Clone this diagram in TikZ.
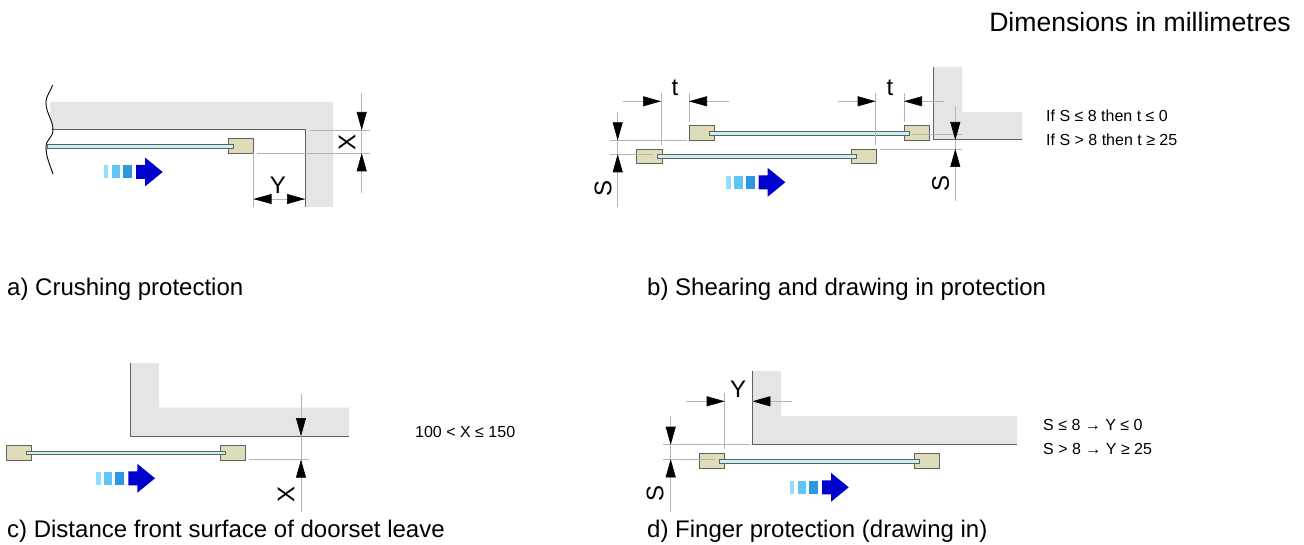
\documentclass[tikz,border=0pt]{standalone}
\usepackage{fontspec}
\setmainfont{Liberation Sans}
\usetikzlibrary{arrows.meta}
\definecolor{wallgray}{HTML}{E5E5E5}
\definecolor{edgedark}{HTML}{606060}
\definecolor{extgray}{HTML}{B4B4B4}
\definecolor{blockfill}{HTML}{DFDCB9}
\definecolor{glassfill}{HTML}{C8F2F2}
\definecolor{mA}{HTML}{8FE0FF}
\definecolor{mB}{HTML}{5FC5F5}
\definecolor{mC}{HTML}{2C98E0}
\definecolor{mD}{HTML}{0000CC}
\tikzset{
  wallfill/.style={fill=wallgray,draw=none},
  walledge/.style={draw=edgedark,line width=1pt},
  extline/.style={draw=extgray,line width=0.9pt},
  dimtip/.style={draw=extgray,line width=0.6pt,-{Triangle[length=18pt,width=10pt,fill=black,color=black]}},
  blockbox/.style={draw=edgedark,fill=blockfill,line width=0.9pt},
  glassbox/.style={draw=edgedark,fill=glassfill,line width=0.9pt},
  caption/.style={anchor=west,inner sep=0pt,font=\fontsize{24}{27}\selectfont},
  dimtext/.style={inner sep=0pt,font=\fontsize{24}{27}\selectfont},
  rule/.style={anchor=west,inner sep=0pt,font=\fontsize{16}{19}\selectfont},
  pics/motion/.style={code={
    \fill[mA] (-59,-6.5) rectangle (-54.5,6.5);
    \fill[mB] (-51,-6.5) rectangle (-42.7,6.5);
    \fill[mC] (-39.7,-6.5) rectangle (-30.7,6.5);
    \fill[mD] (-26.7,-7) -- (-17.7,-7) -- (-17.7,-14.5) -- (0,0) -- (-17.7,14.5) -- (-17.7,7) -- (-26.7,7) -- cycle;
  }}
}
\newcommand{\leafblock}[4]{\draw[blockbox] (#1,#3) rectangle (#2,#4);}
\newcommand{\leafglass}[4]{\draw[glassbox] (#1,#3) rectangle (#2,#4);}
\begin{document}
\begin{tikzpicture}[x=1pt,y=-1pt]
\useasboundingbox (0,0) rectangle (1304,545);
\fill[white] (0,0) rectangle (1304,545);

\node[anchor=east,inner sep=0pt,font=\fontsize{26.6}{30}\selectfont] (title) at (1291,22) {Dimensions in millimetres};

% ---- panel a
\fill[wallfill] (50,102) -- (333,102) -- (333,207) -- (305.3,207) -- (305.3,130) -- (52,130) -- cycle;
\draw[walledge] (52,130) -- (305.3,130) -- (305.3,207);
\draw[line width=0.9pt,black] (52.5,85) .. controls (50,93) and (46,95) .. (46,103) .. controls (46,113) and (53,120) .. (53,130) .. controls (53,138) and (46,139) .. (46,147) .. controls (46,157) and (50,165) .. (53,174);
\leafblock{228}{253.5}{138.7}{153.3}
\leafglass{47}{233}{144}{148}
\pic at (162.7,172) {motion};
\draw[extline] (361.7,93) -- (361.7,193);
\draw[extline] (310,130) -- (370,130);
\draw[extline] (257,153.3) -- (370,153.3);
\draw[extline] (253.5,153.3) -- (253.5,207);
\draw[extline] (253.5,199) -- (305,199);
\draw[dimtip] (361.7,112) -- (361.7,130);
\draw[dimtip] (361.7,171) -- (361.7,153.3);
\draw[dimtip] (270,199) -- (253.5,199);
\draw[dimtip] (288,199) -- (305,199);
\node[dimtext,rotate=90] (ax) at (347,142) {X};
\node[dimtext] (ay) at (278,185) {Y};
\node[caption] (capa) at (7,289) {a) Crushing protection};

% ---- panel b
\fill[wallfill] (933.7,67) -- (962,67) -- (962,112) -- (1022,112) -- (1022,140) -- (933.7,140) -- cycle;
\draw[walledge] (933.7,67) -- (933.7,140) -- (1022,140);
\leafblock{689}{714.7}{125.7}{140.3}
\leafblock{904}{929.3}{125.7}{140.3}
\leafglass{709}{909}{131.3}{135.3}
\leafblock{636.3}{662}{149}{163.7}
\leafblock{851.3}{876.7}{149}{163.7}
\leafglass{657}{856.7}{154.3}{158.3}
\pic at (785.3,182.3) {motion};
\draw[extline] (623,101.3) -- (661,101.3);
\draw[extline] (689,101.3) -- (729,101.3);
\draw[extline] (661,93) -- (661,145);
\draw[extline] (689,93) -- (689,122);
\draw[dimtip] (644,101.3) -- (661,101.3);
\draw[dimtip] (706,101.3) -- (689,101.3);
\node[dimtext] (tl) at (675,88) {t};
\draw[extline] (837.7,101.3) -- (875.7,101.3);
\draw[extline] (904,101.3) -- (944,101.3);
\draw[extline] (875.7,93) -- (875.7,145);
\draw[extline] (904,93) -- (904,122);
\draw[dimtip] (858.7,101.3) -- (875.7,101.3);
\draw[dimtip] (921,101.3) -- (904,101.3);
\node[dimtext] (tr) at (890,88) {t};
\draw[extline] (617.7,111.7) -- (617.7,206.7);
\draw[extline] (610,140.3) -- (686.7,140.3);
\draw[extline] (610,154.3) -- (653,154.3);
\draw[dimtip] (617.7,123) -- (617.7,140.3);
\draw[dimtip] (617.7,172) -- (617.7,154.3);
\node[dimtext,rotate=90] (sl) at (603,188) {S};
\draw[extline] (955.3,106) -- (955.3,200.7);
\draw[extline] (880,149) -- (962,149);
\draw[extline] (912,134) -- (962,134);
\draw[dimtip] (955.3,122) -- (955.3,140);
\draw[dimtip] (955.3,166) -- (955.3,149);
\node[dimtext,rotate=90] (sr) at (940.7,183) {S};
\node[rule] (rb1) at (1046,116) {If S ≤ 8 then t ≤ 0};
\node[rule] (rb2) at (1046,140) {If S > 8 then t ≥ 25};
\node[caption] (capb) at (647,289) {b) Shearing and drawing in protection};

% ---- panel c
\fill[wallfill] (130.3,363) -- (159,363) -- (159,407.7) -- (349,407.7) -- (349,436) -- (130.3,436) -- cycle;
\draw[walledge] (130.3,363) -- (130.3,436) -- (349,436);
\leafblock{6.3}{31.7}{445}{460}
\leafblock{220.3}{245.7}{445}{460}
\leafglass{26.3}{225.7}{451}{454.3}
\pic at (155,478.3) {motion};
\draw[extline] (301,394) -- (301,511.7);
\draw[extline] (248.7,459.7) -- (309,459.7);
\draw[dimtip] (301,419) -- (301,436);
\draw[dimtip] (301,477) -- (301,459.7);
\node[dimtext,rotate=90] (cx) at (286,494) {X};
\node[rule] (rc) at (415,432) {100 < X ≤ 150};
\node[caption] (capc) at (7,531) {c) Distance front surface of doorset leave};

% ---- panel d
\fill[wallfill] (752.3,371) -- (781,371) -- (781,416) -- (1017,416) -- (1017,444.7) -- (752.3,444.7) -- cycle;
\draw[walledge] (752.3,371) -- (752.3,444.7) -- (1017,444.7);
\leafblock{699.3}{724.7}{453.3}{468}
\leafblock{914}{939.3}{453.3}{468}
\leafglass{719.7}{919}{459}{463}
\pic at (848.7,487.3) {motion};
\draw[extline] (686,401.3) -- (724.7,401.3);
\draw[extline] (752.3,401.3) -- (792,401.3);
\draw[extline] (724.7,393) -- (724.7,449);
\draw[dimtip] (707.7,401.3) -- (724.7,401.3);
\draw[dimtip] (769.3,401.3) -- (752.3,401.3);
\node[dimtext] (dy) at (738,389) {Y};
\draw[extline] (670.7,416) -- (670.7,511.7);
\draw[extline] (663,444.7) -- (750,444.7);
\draw[extline] (663,459.3) -- (715,459.3);
\draw[dimtip] (670.7,427) -- (670.7,444.7);
\draw[dimtip] (670.7,477) -- (670.7,459.3);
\node[dimtext,rotate=90] (ds) at (655,493) {S};
\node[rule] (rd1) at (1043,425) {S ≤ 8 → Y ≤ 0};
\node[rule] (rd2) at (1043,449) {S > 8 → Y ≥ 25};
\node[caption] (capd) at (647,531) {d) Finger protection (drawing in)};
\end{tikzpicture}
\end{document}
